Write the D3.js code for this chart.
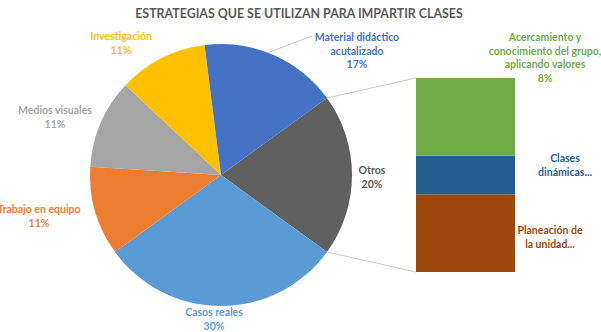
<!DOCTYPE html>
<html>
<head>
<meta charset="utf-8">
<script src="https://cdn.jsdelivr.net/npm/d3@7"></script>
<style>
  html, body { margin: 0; padding: 0; background: #fff; }
  svg { display: block; font-family: Lato, "Open Sans", sans-serif; }
</style>
</head>
<body>
<svg id="chart" width="601" height="332"></svg>
<script>
// Main pie: clockwise order starting with the aggregated "Otros" slice at 3 o'clock
const pieLabels = [
  ["Otros"],
  ["Casos reales"],
  ["Trabajo en equipo"],
  ["Medios visuales"],
  ["Investigación"],
  ["Material didáctico", "acutalizado"]
];
const pieValues = [20, 30, 11, 11, 11, 17];
const pieColors = ["#606060", "#5B9BD5", "#ED7D31", "#A5A5A5", "#FFC000", "#4472C4"];
const pieLabelColors = ["#595959", "#5B9BD5", "#ED7D31", "#A5A5A5", "#FFC000", "#4472C4"];

// Secondary stacked bar (breakdown of "Otros"), bottom to top
const barLabels = [
  ["Planeación de", "la unidad..."],
  ["Clases", "dinámicas..."],
  ["Acercamiento y", "conocimiento del grupo,", "aplicando valores"]
];
const barValues = [8, 4, 8];
const barShowPct = [false, false, true];
const barColors = ["#9E480E", "#255E91", "#70AD47"];

const title = "ESTRATEGIAS QUE SE UTILIZAN PARA IMPARTIR CLASES";

const svg = d3.select("#chart");

svg.append("text")
  .attr("x", 299).attr("y", 18)
  .attr("text-anchor", "middle")
  .attr("font-size", 12.4).attr("font-weight", 700)
  .attr("fill", "#595959")
  .text(title);

// ---- pie ----
const cx = 221, cy = 175, R = 131;
const deg = Math.PI / 180;
const pie = d3.pie().sort(null).value(d => d)
  .startAngle(54 * deg).endAngle(414 * deg);
const arcs = pie(pieValues);
const arc = d3.arc().innerRadius(0).outerRadius(R);

const gPie = svg.append("g").attr("transform", `translate(${cx},${cy})`);
gPie.selectAll("path").data(arcs).enter().append("path")
  .attr("d", arc)
  .attr("fill", (d, i) => pieColors[i]);

// ---- stacked bar ----
const barTotal = d3.sum(barValues);
const y = d3.scaleLinear().domain([0, barTotal]).range([272, 78]);
const x = d3.scaleBand().domain(["Otros"]).range([416, 515]).padding(0);
const stack = d3.stack().keys(barValues.map((_, i) => i))
  ([Object.fromEntries(barValues.map((v, i) => [i, v]))]);

svg.append("g").selectAll("rect").data(stack).enter().append("rect")
  .attr("x", x("Otros"))
  .attr("width", x.bandwidth())
  .attr("y", d => y(d[0][1]))
  .attr("height", d => y(d[0][0]) - y(d[0][1]))
  .attr("fill", (d, i) => barColors[i]);

// connector lines from the "Otros" slice edges to the bar corners
const otros = arcs[0];
const edgePt = a => [cx + R * Math.sin(a), cy - R * Math.cos(a)];
const [p1x, p1y] = edgePt(otros.startAngle);
const [p2x, p2y] = edgePt(otros.endAngle);
svg.append("line")
  .attr("x1", p1x).attr("y1", p1y)
  .attr("x2", x("Otros")).attr("y2", y(barTotal))
  .attr("stroke", "#C8C8C8").attr("stroke-width", 1);
svg.append("line")
  .attr("x1", p2x).attr("y1", p2y)
  .attr("x2", x("Otros")).attr("y2", y(0))
  .attr("stroke", "#C8C8C8").attr("stroke-width", 1);

// ---- data labels ----
const lineH = 13.5;
function label(lines, px, py, color) {
  const t = svg.append("text")
    .attr("text-anchor", "middle")
    .attr("font-size", 10.5).attr("font-weight", 700)
    .attr("fill", color);
  lines.forEach((s, k) => {
    t.append("tspan").attr("x", px).attr("y", py + k * lineH).text(s);
  });
}

const pieLabelPos = [
  [372, 174], [214, 316], [39, 213], [55, 114], [121, 40], [357, 41]
];
pieLabels.forEach((l, i) => {
  label([...l, pieValues[i] + "%"], pieLabelPos[i][0], pieLabelPos[i][1], pieLabelColors[i]);
});

// leader line for "Material didáctico"
const mat = arcs[5];
const mid = (mat.startAngle + mat.endAngle) / 2 - 2.4 * deg;
const [mx, my] = edgePt(mid);
svg.append("line")
  .attr("x1", mx).attr("y1", my).attr("x2", 312).attr("y2", 36)
  .attr("stroke", "#C8C8C8").attr("stroke-width", 1);

const barLabelPos = [[550, 234], [565, 162], [545, 41]];
barLabels.forEach((l, i) => {
  const lines = barShowPct[i] ? [...l, barValues[i] + "%"] : l;
  label(lines, barLabelPos[i][0], barLabelPos[i][1], barColors[i]);
});
</script>
</body>
</html>
